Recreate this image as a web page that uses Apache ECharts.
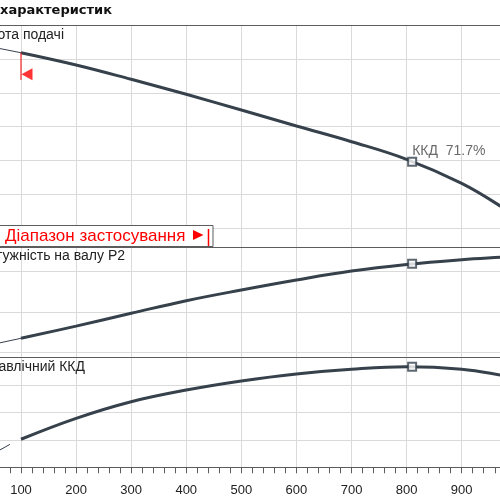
<!DOCTYPE html>
<html>
<head>
<meta charset="utf-8">
<script src="https://cdn.jsdelivr.net/npm/echarts@6/dist/echarts.min.js"></script>
<style>
html,body{margin:0;padding:0;background:#ffffff;}
#chart{width:500px;height:500px;}
</style>
</head>
<body>
<div id="chart"></div>
<script>
// ---- data (flow Q, head H, shaft power P2, hydraulic efficiency) ----
const flow        = [100, 200, 300, 400, 500, 600, 700, 800, 900, 970, 1000];
const head        = [55.91, 54.10, 51.99, 49.78, 47.46, 45.10, 42.79, 40.19, 36.65, 33.3, 31.4];
const power       = [46.95, 53.0, 59.35, 65.61, 70.92, 75.88, 80.35, 83.6, 85.96, 87.15, 87.6];
const efficiency  = [20.4, 35.6, 47.7, 56.2, 62.8, 67.9, 71.3, 73.1, 71.3, 67.1, 64.5];

// parts outside the application range (thin lines)
const flowLow     = [60, 100];
const headLow     = [56.55, 55.91];
const powerLow    = [44.6, 46.95];
const flowLowEff  = [60, 80];
const effLow      = [12.2, 16.7];

// best efficiency point
const bepFlow     = [810];
const bepHead     = [39.84];
const bepPower    = [83.97];
const bepEff      = [73.2];
const bepLabelEff = [71.7];

// application range start
const rangeStart  = [100];
const rangeMarkHead = [55.91, 51.9];
const rangeArrowHead = [52.75];

// titles
const panelTitles = ['Висота подачі', 'Потужність на валу P2', 'Гідравлічний ККД'];
const chartTitle  = 'характеристик';
const rangeText   = 'Діапазон застосування';

const zip = (a, b) => a.map((v, i) => [v, b[i]]);

const curveColor = '#36414c';
const gridColor  = '#dadada';
const darkLine   = '#5c5c5c';
const FONT = '"Liberation Sans", Arial, sans-serif';

const gridLeft = -34.1, gridRight = -16.8;

function xAx(gridIndex, opts) {
  return Object.assign({
    type: 'value', gridIndex, min: 0, max: 1000, interval: 100,
    axisLine: { show: true, lineStyle: { color: darkLine, width: 1 } },
    axisTick: { show: false },
    axisLabel: { show: false },
    splitLine: { show: true, lineStyle: { color: gridColor, width: 1 } }
  }, opts || {});
}
function yAx(gridIndex, opts) {
  return Object.assign({
    type: 'value', gridIndex,
    axisLine: { show: false }, axisTick: { show: false }, axisLabel: { show: false },
    splitLine: { show: true, lineStyle: { color: gridColor, width: 1 } }
  }, opts);
}

const thick = { color: curveColor, width: 3 };
const thin  = { color: curveColor, width: 1 };
function bepSeries(xi, yi, x, y, label) {
  return {
    type: 'scatter', xAxisIndex: xi, yAxisIndex: yi, z: 5,
    data: zip(x, y), symbol: 'rect', symbolSize: 8,
    itemStyle: { color: '#ffffff', borderColor: curveColor, borderWidth: 2 },
    label: label || { show: false },
    silent: true
  };
}
const gridBase = { left: gridLeft, right: gridRight, containLabel: false, outerBoundsMode: 'none' };

const option = {
  animation: false,
  backgroundColor: '#ffffff',
  grid: [
    Object.assign({ top: 25, height: 222 }, gridBase),
    Object.assign({ top: 247, height: 110.3 }, gridBase),
    Object.assign({ top: 357.3, height: 110 }, gridBase)
  ],
  xAxis: [
    xAx(0),
    xAx(0, { position: 'top', splitLine: { show: false } }),
    xAx(1),
    xAx(2, {
      axisTick: { show: true, length: 6, lineStyle: { color: darkLine } },
      minorTick: { show: true, splitNumber: 5, length: 6, lineStyle: { color: darkLine } },
      axisLabel: { show: true, margin: 17, fontSize: 13, color: '#222', fontFamily: FONT,
                   formatter: v => String(v) }
    })
  ],
  yAxis: [
    yAx(0, { min: 27.26, max: 60, minInterval: 5, maxInterval: 5 }),
    yAx(1, { min: 37.52, max: 92.26, minInterval: 20, maxInterval: 20 }),
    yAx(2, { min: 0, max: 80, interval: 20 })
  ],
  series: [
    // head
    { type: 'line', xAxisIndex: 0, yAxisIndex: 0, data: zip(flowLow, headLow), showSymbol: false, lineStyle: thin },
    { type: 'line', xAxisIndex: 0, yAxisIndex: 0, data: zip(flow, head), smooth: 0.4, showSymbol: false, lineStyle: thick },
    bepSeries(0, 0, bepFlow, bepHead, {
      show: true, position: [5, -6], align: 'left', verticalAlign: 'middle',
      formatter: () => 'ККД  ' + bepLabelEff[0].toFixed(1) + '%',
      fontSize: 14, color: '#444', fontFamily: FONT
    }),
    // range start marker
    { type: 'line', xAxisIndex: 0, yAxisIndex: 0, z: 4,
      data: zip([rangeStart[0], rangeStart[0]], rangeMarkHead), showSymbol: false,
      lineStyle: { color: '#ff0000', width: 1 } },
    { type: 'scatter', xAxisIndex: 0, yAxisIndex: 0, z: 4,
      data: zip(rangeStart, rangeArrowHead), symbol: 'triangle', symbolRotate: 90,
      symbolSize: [12, 11], symbolOffset: [6, 0], itemStyle: { color: '#ff0000' } },
    // power
    { type: 'line', xAxisIndex: 2, yAxisIndex: 1, data: zip(flowLow, powerLow), showSymbol: false, lineStyle: thin },
    { type: 'line', xAxisIndex: 2, yAxisIndex: 1, data: zip(flow, power), smooth: 0.4, showSymbol: false, lineStyle: thick },
    bepSeries(2, 1, bepFlow, bepPower),
    // efficiency
    { type: 'line', xAxisIndex: 3, yAxisIndex: 2, data: zip(flowLowEff, effLow), showSymbol: false, lineStyle: thin },
    { type: 'line', xAxisIndex: 3, yAxisIndex: 2, data: zip(flow, efficiency), smooth: 0.4, showSymbol: false, lineStyle: thick },
    bepSeries(3, 2, bepFlow, bepEff)
  ],
  graphic: [
    { type: 'text', x: 0, y: 4, z: 100,
      style: { text: chartTitle, font: 'bold 13px "DejaVu Sans", sans-serif', fill: '#111' } },
    { type: 'text', x: 64, y: 35, z: 100,
      style: { text: panelTitles[0], align: 'right', verticalAlign: 'middle', font: '14px ' + FONT, fill: '#222' } },
    { type: 'text', x: 125, y: 256, z: 100,
      style: { text: panelTitles[1], align: 'right', verticalAlign: 'middle', font: '14px ' + FONT, fill: '#222' } },
    { type: 'text', x: 85, y: 367, z: 100,
      style: { text: panelTitles[2], align: 'right', verticalAlign: 'middle', font: '14px ' + FONT, fill: '#222' } },
    // application range legend box
    { type: 'rect', z: 100, shape: { x: -5, y: 225.5, width: 218, height: 21 },
      style: { fill: '#ffffff', stroke: darkLine, lineWidth: 1 } },
    { type: 'text', x: 5, y: 236, z: 101,
      style: { text: rangeText, verticalAlign: 'middle', font: '17px ' + FONT, fill: '#ff0000' } },
    { type: 'polygon', z: 101, shape: { points: [[193, 230], [203.5, 235], [193, 240]] },
      style: { fill: '#ff0000' } },
    { type: 'line', z: 101, shape: { x1: 208.5, y1: 229, x2: 208.5, y2: 246 },
      style: { stroke: '#ff0000', lineWidth: 1.5 } }
  ]
};

const chart = echarts.init(document.getElementById('chart'), null, { renderer: 'canvas' });
chart.setOption(option);
</script>
</body>
</html>
